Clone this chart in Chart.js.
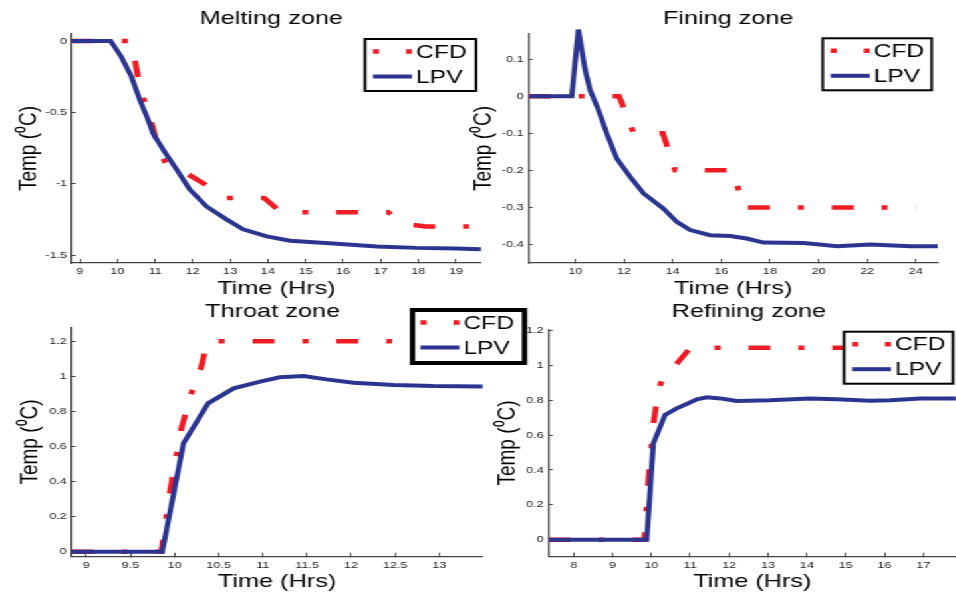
<!DOCTYPE html>
<html>
<head>
<meta charset="utf-8">
<title>Zone temperatures: CFD vs LPV</title>
<script src="https://cdn.jsdelivr.net/npm/chart.js@4.4.1/dist/chart.umd.min.js"></script>
<style>
  html, body { margin: 0; padding: 0; background: #fff; overflow: hidden; }
  body { width: 956px; height: 597px; position: relative; }
  #wrap { position: absolute; left: 0; top: 0; height: 597px; transform-origin: 0 0; }
  #wrap canvas { position: absolute; }
</style>
</head>
<body>
<div id="wrap"></div>
<script>
// [time (hrs), temp change (degC)]
const meltingCFD = [[8.79, 0], [10.3, 0], [10.46, -0.13], [10.6, -0.33], [10.88, -0.55], [11.13, -0.79], [11.3, -0.86],
  [11.85, -0.93], [12.3, -1.0], [12.85, -1.1], [13.9, -1.1], [14.35, -1.2], [17.2, -1.2], [17.6, -1.28], [18.2, -1.3], [19.67, -1.3]];
const meltingLPV = [[8.79, 0], [9.82, 0], [10.1, -0.11], [10.37, -0.25], [10.59, -0.41], [10.81, -0.55], [10.95, -0.65],
  [11.21, -0.76], [11.57, -0.9], [11.92, -1.04], [12.37, -1.16], [12.9, -1.25], [13.34, -1.32], [13.97, -1.37], [14.59, -1.4],
  [15.74, -1.42], [16.9, -1.44], [17.96, -1.45], [19.0, -1.455], [19.67, -1.46]];

const finingCFD = [[8.08, 0], [11.8, 0], [12.4, -0.1], [13.6, -0.1], [14.1, -0.2], [16.5, -0.2], [16.9, -0.3], [24, -0.3]];
const finingLPV = [[8.08, 0], [9.85, 0], [10.12, 0.18], [10.4, 0.071], [10.6, 0.017], [10.95, -0.037], [11.29, -0.1],
  [11.7, -0.168], [12.25, -0.217], [12.8, -0.262], [13.62, -0.303], [14.17, -0.339], [14.72, -0.361], [15.54, -0.375],
  [16.37, -0.377], [17.05, -0.384], [17.74, -0.395], [19.4, -0.396], [20.76, -0.405], [22.13, -0.4], [23.78, -0.405], [24.9, -0.405]];

const throatCFD = [[8.834, 0], [9.85, 0], [9.95, 0.35], [10.08, 0.71], [10.2, 0.92], [10.3, 1.05], [10.37, 1.2], [13.49, 1.2]];
const throatLPV = [[8.834, 0], [9.86, 0], [10.1, 0.618], [10.38, 0.846], [10.67, 0.932], [10.97, 0.97], [11.19, 0.995],
  [11.46, 1.002], [11.72, 0.983], [12.03, 0.964], [12.48, 0.951], [12.93, 0.945], [13.49, 0.943]];

const refiningCFD = [[7.356, 0], [9.82, 0], [9.92, 0.33], [10.05, 0.66], [10.18, 0.86], [10.3, 0.93], [10.62, 1.0], [11.0, 1.1], [17.84, 1.1]];
const refiningLPV = [[7.356, 0], [9.88, 0], [10.05, 0.552], [10.35, 0.715], [10.65, 0.753], [10.95, 0.782], [11.17, 0.805],
  [11.42, 0.816], [11.77, 0.81], [12.2, 0.795], [13.05, 0.8], [14.08, 0.81], [14.76, 0.805], [15.63, 0.797], [16.15, 0.8],
  [16.92, 0.81], [17.84, 0.81]];

// tick labels
const meltingXTicks = [9, 10, 11, 12, 13, 14, 15, 16, 17, 18, 19];
const meltingYTicks = [0, -0.5, -1, -1.5];
const finingXTicks = [10, 12, 14, 16, 18, 20, 22, 24];
const finingYTicks = [0.1, 0, -0.1, -0.2, -0.3, -0.4];
const throatXTicks = [9, 9.5, 10, 10.5, 11, 11.5, 12, 12.5, 13];
const throatYTicks = [0, 0.2, 0.4, 0.6, 0.8, 1, 1.2];
const refiningXTicks = [8, 9, 10, 11, 12, 13, 14, 15, 16, 17];
const refiningYTicks = [0, 0.2, 0.4, 0.6, 0.8, 1, 1.2];

const seriesNames = ['CFD', 'LPV'];

const S = 1.33; // the original figure is stretched sideways
const RED = '#ee1d25';
const BLUE = '#2b3590';
const FONT = "'Liberation Sans', Arial, sans-serif";
const TITLE = 19;
const HALF = TITLE * 1.2 / 2;

// page positions (px) of each axes box, titles and legend
const panels = [
  { title: 'Melting zone', cfd: meltingCFD, lpv: meltingLPV, xTicks: meltingXTicks, yTicks: meltingYTicks,
    xRange: [8.79, 19.67], yRange: [-1.556, 0.049],
    box: { l: 72, t: 34, r: 481, b: 263 }, titleX: 271.5, titleY: 18, xTitleY: 289, yTitleX: 28,
    legend: { x: 365, y: 39, w: 111, h: 52, lw: 2 } },
  { title: 'Fining zone', cfd: finingCFD, lpv: finingLPV, xTicks: finingXTicks, yTicks: finingYTicks,
    xRange: [8.08, 24.9], yRange: [-0.45, 0.168],
    box: { l: 528.7, t: 34, r: 937.7, b: 263 }, titleX: 728, titleY: 18, xTitleY: 289, yTitleX: 483,
    legend: { x: 822.7, y: 38.3, w: 109, h: 52, lw: 2 } },
  { title: 'Throat zone', cfd: throatCFD, lpv: throatLPV, xTicks: throatXTicks, yTicks: throatYTicks,
    xRange: [8.834, 13.487], yRange: [-0.0285, 1.28],
    box: { l: 71.7, t: 327.3, r: 482.3, b: 556.7 }, titleX: 272.5, titleY: 311.7, xTitleY: 581.7, yTitleX: 30,
    legend: { x: 412.5, y: 310, w: 112, h: 53, lw: 4 } },
  { title: 'Refining zone', cfd: refiningCFD, lpv: refiningLPV, xTicks: refiningXTicks, yTicks: refiningYTicks,
    xRange: [7.356, 17.84], yRange: [-0.097, 1.206],
    box: { l: 548.7, t: 329.3, r: 956, b: 556.7 }, titleX: 749, titleY: 311.7, xTitleY: 581.7, yTitleX: 507,
    legend: { x: 844, y: 331.7, w: 109, h: 52, lw: 2 } }
];

// boxed legend drawn inside the axes, like the original
const zoneLegend = {
  id: 'zoneLegend',
  afterDraw(chart, args, o) {
    const ctx = chart.ctx;
    const ds = chart.data.datasets;
    const sx = o.x + 8 / S, len = 39 / S;
    ctx.save();
    ctx.fillStyle = '#fff';
    ctx.fillRect(o.x, o.y, o.w, o.h);
    ctx.lineWidth = o.lw;
    ctx.strokeStyle = '#000';
    ctx.strokeRect(o.x, o.y, o.w, o.h);

    ctx.strokeStyle = RED;
    ctx.lineWidth = 4.5;
    ctx.setLineDash([4.5, len - 9]);
    ctx.beginPath(); ctx.moveTo(sx, o.y + 12.5); ctx.lineTo(sx + len, o.y + 12.5); ctx.stroke();
    ctx.setLineDash([]);
    ctx.strokeStyle = BLUE;
    ctx.lineWidth = 4;
    ctx.beginPath(); ctx.moveTo(sx, o.y + 37.5); ctx.lineTo(sx + len, o.y + 37.5); ctx.stroke();

    ctx.fillStyle = '#000';
    ctx.font = '18.5px ' + FONT;
    ctx.textBaseline = 'middle';
    ctx.fillText(ds[0].label, o.x + 51 / S, o.y + 13.5);
    ctx.fillText(ds[1].label, o.x + 51 / S, o.y + 38.5);
    ctx.restore();
  }
};

Chart.defaults.font.family = FONT;

const wrap = document.getElementById('wrap');
wrap.style.width = (956 / S) + 'px';
wrap.style.transform = 'scaleX(' + S + ')';

panels.forEach(p => {
  const left = Math.round((p.yTitleX - HALF * S) / S);
  const right = Math.round((2 * p.titleX - left * S) / S);
  const top = Math.round(p.titleY - HALF);
  const bottom = Math.round(p.xTitleY + HALF);
  const w = right - left, h = bottom - top;

  const yW = p.box.l / S - left;
  const xH = bottom - p.box.b;
  const titlePad = p.box.t - top - 2 * HALF;
  const gapRight = right - p.box.r / S;

  const cv = document.createElement('canvas');
  cv.width = w; cv.height = h;
  cv.style.left = left + 'px';
  cv.style.top = top + 'px';
  cv.style.width = w + 'px';
  cv.style.height = h + 'px';
  wrap.appendChild(cv);

  new Chart(cv.getContext('2d'), {
    type: 'line',
    data: {
      datasets: [{
        label: seriesNames[0],
        data: p.cfd.map(([x, y]) => ({ x, y })),
        borderColor: RED,
        borderWidth: 4.5,
        borderDash: [16.5, 21, 4.5, 21],
        pointRadius: 0,
        tension: 0,
        clip: false,
        order: 1
      }, {
        label: seriesNames[1],
        data: p.lpv.map(([x, y]) => ({ x, y })),
        borderColor: BLUE,
        borderWidth: 4,
        pointRadius: 0,
        tension: 0,
        clip: false,
        order: 0
      }]
    },
    options: {
      responsive: false,
      animation: false,
      devicePixelRatio: 1,
      layout: { padding: 0 },
      plugins: {
        legend: { display: false },
        tooltip: { enabled: false },
        title: {
          display: true,
          text: p.title,
          color: '#000',
          font: { size: TITLE, weight: 'normal', lineHeight: 1.2 },
          padding: { top: 0, bottom: titlePad }
        },
        zoneLegend: {
          x: p.legend.x / S - left,
          y: p.legend.y - top,
          w: p.legend.w / S,
          h: p.legend.h,
          lw: p.legend.lw
        }
      },
      scales: {
        x: {
          type: 'linear',
          position: 'bottom',
          min: p.xRange[0],
          max: p.xRange[1],
          afterBuildTicks: s => { s.ticks = p.xTicks.map(v => ({ value: v })); },
          afterFit: s => { s.height = xH; },
          ticks: { callback: v => String(v), font: { size: 9.5 }, color: '#222', padding: 6.8, maxRotation: 0, autoSkip: false },
          grid: { drawOnChartArea: false, tickLength: -4, color: '#444', lineWidth: 1 },
          border: { color: '#444', width: 1.3 },
          title: { display: true, text: 'Time (Hrs)', color: '#000', font: { size: TITLE, lineHeight: 1.2 }, padding: 0 }
        },
        y: {
          type: 'linear',
          position: 'left',
          min: p.yRange[0],
          max: p.yRange[1],
          afterBuildTicks: s => { s.ticks = p.yTicks.map(v => ({ value: v })); },
          afterFit: s => { s.width = yW; },
          ticks: { callback: v => String(v), font: { size: 9.5 }, color: '#222', padding: 6.8, autoSkip: false },
          grid: { drawOnChartArea: false, tickLength: -3, color: '#444', lineWidth: 1 },
          border: { color: '#444', width: 1.3 },
          title: { display: true, text: 'Temp (⁰C)', color: '#000', font: { size: TITLE, lineHeight: 1.2 }, padding: 0 }
        },
        // empty right-hand box: keeps the plot narrower than the canvas so the title stays centred where it was
        gap: {
          axis: 'y',
          type: 'linear',
          position: 'right',
          afterFit: s => { s.width = gapRight; },
          grid: { display: false },
          border: { display: false },
          ticks: { display: false }
        }
      }
    },
    plugins: [zoneLegend]
  });
});
</script>
</body>
</html>
